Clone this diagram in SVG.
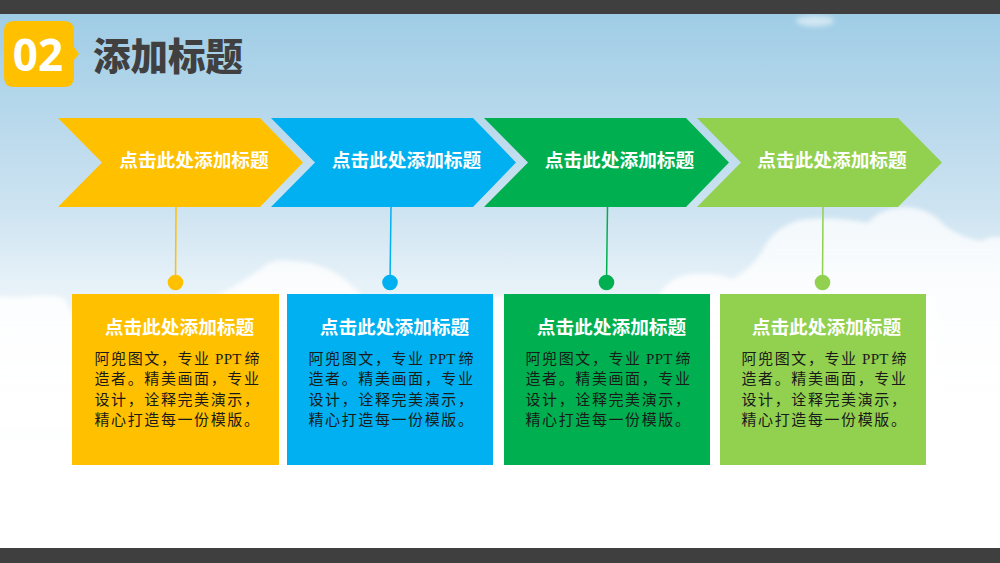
<svg xmlns="http://www.w3.org/2000/svg" width="1000" height="563" viewBox="0 0 1000 563">
<defs>
<linearGradient id="sky" x1="0" y1="0" x2="0" y2="563" gradientUnits="userSpaceOnUse">
<stop offset="0" stop-color="#9ccbe5"/><stop offset="0.37" stop-color="#cde3f1"/><stop offset="0.5" stop-color="#e6f1f8"/><stop offset="0.7" stop-color="#fafcfe"/><stop offset="0.8" stop-color="#ffffff"/>
</linearGradient>
<linearGradient id="cl" x1="0" y1="205" x2="0" y2="430" gradientUnits="userSpaceOnUse">
<stop offset="0" stop-color="#fff" stop-opacity="0.72"/><stop offset="1" stop-color="#fff" stop-opacity="1"/>
</linearGradient>
<filter id="b" x="-10%" y="-10%" width="120%" height="120%"><feGaussianBlur stdDeviation="2"/></filter>
<filter id="b2" x="-30%" y="-50%" width="160%" height="200%"><feGaussianBlur stdDeviation="2.500"/></filter>
</defs>
<style>
.h{font-family:"Noto Sans CJK SC","Liberation Sans",sans-serif;font-weight:700;fill:#fff;font-size:18.7px;text-anchor:middle}
.t{font-family:"Liberation Serif","Noto Sans CJK SC",serif;font-size:15px;letter-spacing:1.6px;fill:#1a1a1a}
.p{letter-spacing:0.3px}
.l{stroke-width:1.5;fill:none}
.y{fill:#ffc000}.yl{stroke:#ffc000}.c{fill:#00b0f0}.cl{stroke:#00b0f0}.g{fill:#00b050}.gl{stroke:#00b050}.e{fill:#92d050}.el{stroke:#92d050}
</style>
<g id="background">
<rect width="1000" height="563" fill="url(#sky)"/>
<g fill="url(#cl)" filter="url(#b)">
<path d="M658 296Q668 278 690 274Q715 272 732 279Q748 272 762 252Q772 228 800 220Q830 216 868 223Q880 208 905 207Q930 208 945 226Q965 240 982 241Q992 235 1004 238V560H650Z"/>
<path d="M215 296Q240 284 262 268Q272 258 290 261Q320 262 340 276Q352 284 362 296Z"/>
<path d="M-4 296Q15 298 30 296Q50 294 64 298L75 320V430H-4Z"/>
<rect x="75" y="296" width="860" height="254"/>
</g>
<ellipse cx="815" cy="21" rx="19" ry="5.500" fill="#fff" opacity="0.5" filter="url(#b2)"/>
<rect width="1000" height="14" fill="#3f3f3f"/>
<rect y="548" width="1000" height="15" fill="#3f3f3f"/>
</g>
<g id="heading">
<path class="y" d="M14 21H64Q74 21 74 31V47L79 54L74 60V77Q74 87 64 87H14Q4 87 4 77V31Q4 21 14 21Z"/>
<text x="38" y="71" font-family="Open Sans,Liberation Sans,sans-serif" font-weight="700" font-size="44" fill="#fff" text-anchor="middle">02</text>
<text x="168" y="70" font-family="Noto Sans CJK SC,sans-serif" font-weight="900" font-size="37.500" fill="#404040" text-anchor="middle">添加标题</text>
</g>
<g id="connectors">
<line class="l yl" x1="176" y1="207" x2="175.500" y2="282"/>
<line class="l cl" x1="391" y1="207" x2="390" y2="282"/>
<line class="l gl" x1="607.500" y1="207" x2="606.500" y2="282"/>
<line class="l el" x1="823" y1="207" x2="822.500" y2="282"/>
</g>
<g id="arrow-1"><path class="y" d="M58 118H260L303 162.500L260 207H58L102 162.500Z"/><text class="h" x="194" y="167">点击此处添加标题</text></g>
<g id="arrow-2"><path class="c" d="M271 118H473L516 162.500L473 207H271L315 162.500Z"/><text class="h" x="406.500" y="167">点击此处添加标题</text></g>
<g id="arrow-3"><path class="g" d="M484 118H686L729 162.500L686 207H484L528 162.500Z"/><text class="h" x="619.500" y="167">点击此处添加标题</text></g>
<g id="arrow-4"><path class="e" d="M697 118H898L942 162.500L898 207H697L741 162.500Z"/><text class="h" x="832" y="167">点击此处添加标题</text></g>
<g id="card-1"><circle class="y" cx="175.500" cy="282.500" r="7.800"/><rect class="y" x="72" y="294" width="207" height="171"/><text class="h" x="179.500" y="334">点击此处添加标题</text>
<text class="t"><tspan x="94.500" y="364">阿兜图文，专业</tspan><tspan class="p" x="215" y="364">PPT</tspan><tspan x="244.500" y="364">缔</tspan><tspan x="94.500" y="384">造者。精美画面，专业</tspan><tspan x="94.500" y="405">设计，诠释完美演示，</tspan><tspan x="94.500" y="425">精心打造每一份模版。</tspan></text></g>
<g id="card-2"><circle class="c" cx="390" cy="282.500" r="7.800"/><rect class="c" x="287" y="294" width="206" height="171"/><text class="h" x="394.500" y="334">点击此处添加标题</text>
<text class="t"><tspan x="308.500" y="364">阿兜图文，专业</tspan><tspan class="p" x="429" y="364">PPT</tspan><tspan x="458.500" y="364">缔</tspan><tspan x="308.500" y="384">造者。精美画面，专业</tspan><tspan x="308.500" y="405">设计，诠释完美演示，</tspan><tspan x="308.500" y="425">精心打造每一份模版。</tspan></text></g>
<g id="card-3"><circle class="g" cx="606.500" cy="282.500" r="7.800"/><rect class="g" x="504" y="294" width="206" height="171"/><text class="h" x="611.500" y="334">点击此处添加标题</text>
<text class="t"><tspan x="525.500" y="364">阿兜图文，专业</tspan><tspan class="p" x="646" y="364">PPT</tspan><tspan x="675.500" y="364">缔</tspan><tspan x="525.500" y="384">造者。精美画面，专业</tspan><tspan x="525.500" y="405">设计，诠释完美演示，</tspan><tspan x="525.500" y="425">精心打造每一份模版。</tspan></text></g>
<g id="card-4"><circle class="e" cx="822.500" cy="282.500" r="7.800"/><rect class="e" x="720" y="294" width="206" height="171"/><text class="h" x="826.500" y="334">点击此处添加标题</text>
<text class="t"><tspan x="741.500" y="364">阿兜图文，专业</tspan><tspan class="p" x="862" y="364">PPT</tspan><tspan x="891.500" y="364">缔</tspan><tspan x="741.500" y="384">造者。精美画面，专业</tspan><tspan x="741.500" y="405">设计，诠释完美演示，</tspan><tspan x="741.500" y="425">精心打造每一份模版。</tspan></text></g>
</svg>
